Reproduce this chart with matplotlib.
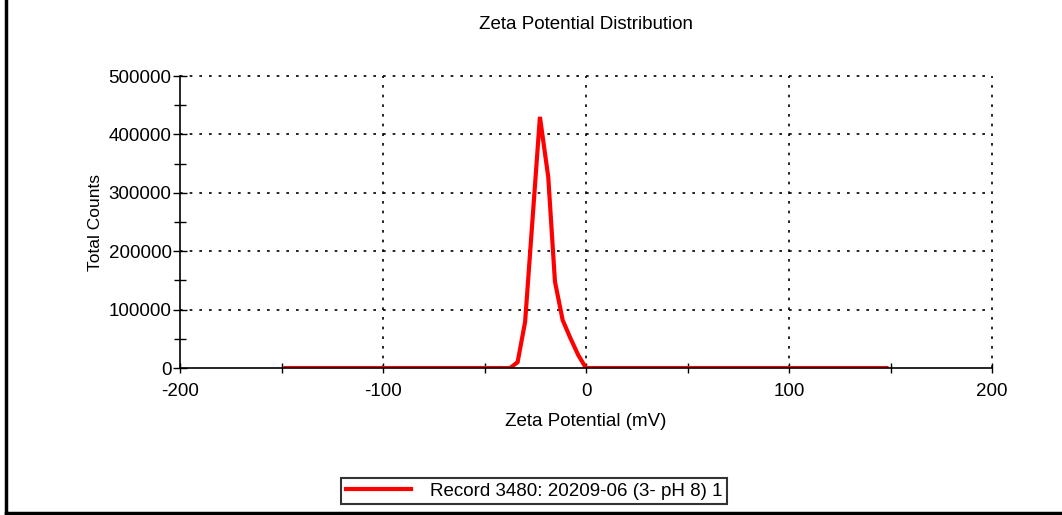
import matplotlib
matplotlib.use("Agg")
import matplotlib.pyplot as plt
from matplotlib.lines import Line2D
from matplotlib.ticker import MultipleLocator

plt.rcParams['font.family'] = ['Liberation Sans', 'DejaVu Sans']
plt.rcParams['axes.unicode_minus'] = False

# zeta potential (mV) vs total counts
zeta_mv = [-148, -37.4, -33.7, -30.0, -22.7, -18.6, -15.3, -11.5, -7.8, -3.8, 0.0, 148]
counts = [0, 0, 10000, 79000, 430000, 327000, 148000, 82000, 52000, 22000, 0, 0]
record_label = "Record 3480: 20209-06 (3- pH 8) 1"

fig = plt.figure(figsize=(10.62, 5.15), dpi=100)
ax = fig.add_axes([0.1695, 0.2854, 0.7646, 0.567])

ax.plot(zeta_mv, counts, color='#ff0000', lw=3, label=record_label, solid_joinstyle='miter')

ax.set_xlim(-200, 200)
ax.set_ylim(0, 500000)
ax.xaxis.set_major_locator(MultipleLocator(100))
ax.xaxis.set_minor_locator(MultipleLocator(50))
ax.yaxis.set_major_locator(MultipleLocator(100000))
ax.yaxis.set_minor_locator(MultipleLocator(50000))
ax.tick_params(axis='both', which='both', direction='inout', color='black', width=1)
ax.tick_params(axis='x', which='both', length=7, labelsize=13.5, pad=7)
ax.tick_params(axis='y', which='major', length=10, labelsize=13.5, pad=1)
ax.tick_params(axis='y', which='minor', length=8)

for side in ('top', 'right'):
    ax.spines[side].set_visible(False)
for side in ('left', 'bottom'):
    ax.spines[side].set_linewidth(1.2)

# dotted grid, including the outer edge at 500000 / 200
for v in [100000, 200000, 300000, 400000, 500000]:
    ax.axhline(v, color='black', lw=1.2, ls=(0, (1.6, 4.2)), zorder=0, clip_on=False)
for v in [-100, 0, 100, 200]:
    ax.axvline(v, color='black', lw=1.2, ls=(0, (1.6, 4.2)), zorder=0, clip_on=False)

ax.set_title("Zeta Potential Distribution", fontsize=13.5, pad=34)
ax.set_xlabel("Zeta Potential (mV)", fontsize=13.5, labelpad=10)
ax.set_ylabel("Total Counts", fontsize=12.5, labelpad=4)

leg = fig.legend(loc='center', bbox_to_anchor=(0.503, 0.0466), fontsize=13.5,
                 frameon=True, fancybox=False, edgecolor='black', handlelength=3.5,
                 handletextpad=1.0, borderpad=0.25, borderaxespad=0)
leg.get_frame().set_linewidth(1.5)

# outer frame on the left and bottom
fig.add_artist(Line2D([6 / 1062, 6 / 1062], [0.004, 1.0], transform=fig.transFigure, color='black', lw=2.5))
fig.add_artist(Line2D([6 / 1062, 1.0], [0.004, 0.004], transform=fig.transFigure, color='black', lw=2.5))

fig.savefig("out.png", dpi=100, facecolor='white')
